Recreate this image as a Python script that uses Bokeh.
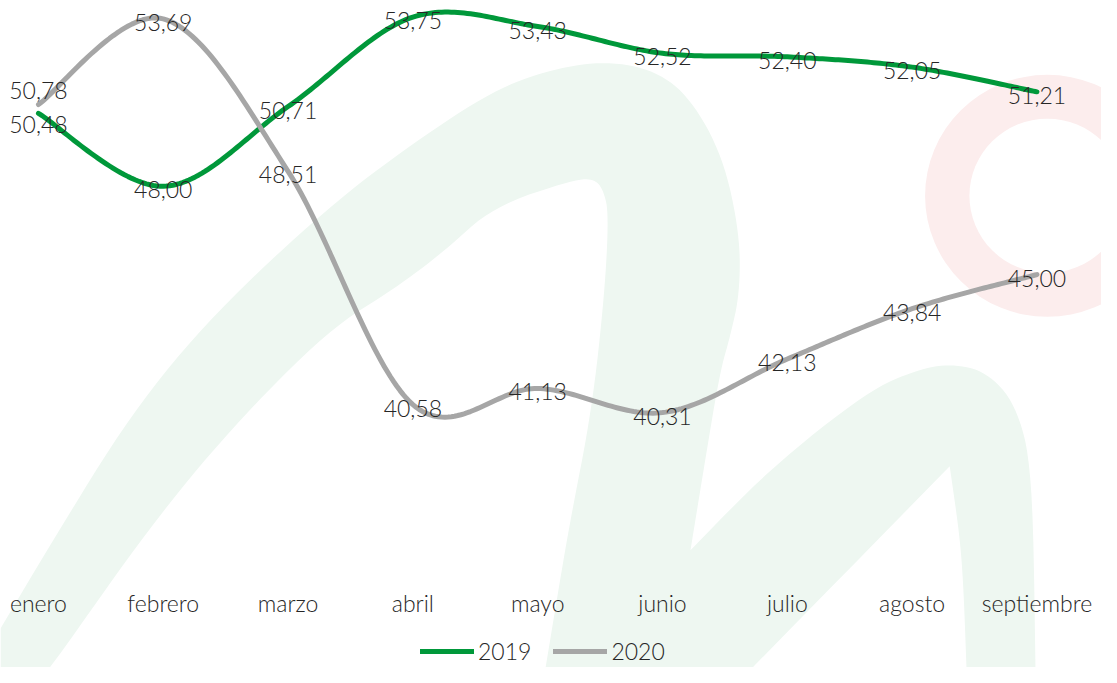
import numpy as np
from bokeh.plotting import figure
from bokeh.models import ColumnDataSource, Range1d, Legend, LegendItem
from bokeh.core.properties import value
from bokeh.embed import file_html
from bokeh.resources import INLINE

# ---------------- data ----------------
months = ["enero", "febrero", "marzo", "abril", "mayo", "junio", "julio", "agosto", "septiembre"]
series_names = ["2019", "2020"]
values_2019 = [50.48, 48.00, 50.71, 53.75, 53.43, 52.52, 52.40, 52.05, 51.21]
values_2020 = [50.78, 53.69, 48.51, 40.58, 41.13, 40.31, 42.13, 43.84, 45.00]

# ---------------- style / layout ----------------
W, H = 1101, 667
REF_W, REF_H = 1117, 683
SX, SY = W / REF_W, H / REF_H
FONT = "Lato Light"
FS = "23px"
TXT = "#262626"
GREEN = "#00983A"
GREY = "#A6A6A6"
X0_PX, STEP_PX = 38.5 * SX, 126.625 * SX        # screen position of first category, spacing
REF_VAL, REF_PX, PX_PER_UNIT = 53.75, 17.0 * SY, 30.13 * SY
x_start = -X0_PX / STEP_PX
x_end = x_start + W / STEP_PX
y_top = REF_VAL + REF_PX / PX_PER_UNIT
y_bot = y_top - H / PX_PER_UNIT
MONTH_LABEL_PX = 617 * SY
# per-point label offsets (screen px, positive = down)
off_2019 = [11, 3, 3.5, 3.5, 3.5, 3.5, 3.5, 3.5, 3.5]
off_2020 = [-14, 3.5, 3, 3.5, 3.5, 3.5, 3.5, 3.5, 3.5]

# watermark (decorative, reference-pixel coordinates; 1 = sharp corner)
wm_pts = [(0, 683, 1), (0, 643, 1), (50, 558, 0), (133, 422, 0), (217, 320, 0), (333, 211, 0),
          (420, 145, 0), (500, 92, 0), (560, 70, 0), (615, 62, 0), (665, 72, 0), (700, 100, 0),
          (733, 160, 0), (750, 239, 0), (750, 300, 0), (740, 345, 0), (730, 380, 0), (715, 470, 0),
          (700, 563, 1), (780, 480, 0), (880, 400, 0), (930, 378, 0), (965, 372, 0), (1000, 380, 0),
          (1030, 413, 0), (1047, 480, 0), (1050, 683, 1), (980, 683, 1), (977, 600, 0), (973, 547, 0),
          (963, 477, 1), (863, 580, 0), (763, 683, 1), (553, 683, 1), (565, 610, 0), (577, 538, 0),
          (600, 419, 0), (613, 299, 0), (617, 219, 0), (612, 195, 0), (603, 183, 0), (583, 183, 0),
          (500, 211, 0), (450, 257, 0), (400, 295, 0), (333, 337, 0), (233, 439, 0), (150, 541, 0),
          (67, 660, 0), (50, 683, 1)]
ring_x, ring_y, ring_r_in, ring_r_out = 1062, 200, 79, 124


def smooth(xs, ys, n=40):
    pts = np.column_stack([xs, ys]).astype(float)
    P = np.vstack([pts[0], pts, pts[-1]])
    out = [pts[0:1]]
    t = np.linspace(0, 1, n)[1:, None]
    for i in range(len(pts) - 1):
        p0, p1, p2, p3 = P[i], P[i + 1], P[i + 2], P[i + 3]
        c1 = p1 + (p2 - p0) / 6.0
        c2 = p2 - (p3 - p1) / 6.0
        b = (1 - t) ** 3 * p1 + 3 * (1 - t) ** 2 * t * c1 + 3 * (1 - t) * t ** 2 * c2 + t ** 3 * p2
        out.append(b)
    a = np.vstack(out)
    return a[:, 0], a[:, 1]


def chaikin(pts, iters=3):
    for _ in range(iters):
        new = []
        n = len(pts)
        for i in range(n):
            x, y, f = pts[i]
            if f:
                new.append((x, y, 1))
            else:
                px, py, _ = pts[i - 1]
                nx, ny, _ = pts[(i + 1) % n]
                new.append((0.75 * x + 0.25 * px, 0.75 * y + 0.25 * py, 0))
                new.append((0.75 * x + 0.25 * nx, 0.75 * y + 0.25 * ny, 0))
        pts = new
    return [q[0] for q in pts], [q[1] for q in pts]


p = figure(width=W, height=H, output_backend="svg", toolbar_location=None,
           x_range=Range1d(x_start, x_end), y_range=Range1d(y_bot, y_top),
           x_axis_location=None, y_axis_location=None, min_border=0)
p.outline_line_color = None
p.grid.visible = False
p.background_fill_color = "white"

# watermark in reference pixels
p.extra_x_ranges = {"px": Range1d(0, REF_W)}
p.extra_y_ranges = {"px": Range1d(REF_H, 0)}
wx, wy = chaikin(wm_pts)
p.patch(wx, wy, x_range_name="px", y_range_name="px", fill_color="#EEF7F1", line_color=None)
p.ellipse(x=[ring_x], y=[ring_y], width=2 * ring_r_out, height=2 * ring_r_out,
          x_range_name="px", y_range_name="px", fill_color="#FCEDED", line_color=None)
p.ellipse(x=[ring_x], y=[ring_y], width=2 * ring_r_in, height=2 * ring_r_in,
          x_range_name="px", y_range_name="px", fill_color="white", line_color=None)

xs = list(range(len(months)))
renderers = []
for vals, col in [(values_2019, GREEN), (values_2020, GREY)]:
    sx, sy = smooth(xs, vals)
    r = p.line(sx, sy, line_color=col, line_width=5, line_cap="round", line_join="round")
    renderers.append(r)

for vals, offs in [(values_2019, off_2019), (values_2020, off_2020)]:
    src = ColumnDataSource(dict(x=xs, y=vals, t=[f"{v:.2f}".replace(".", ",") for v in vals], o=offs))
    p.text(x="x", y="y", text="t", y_offset="o", source=src, text_align="center",
           text_baseline="middle", text_font=value(FONT), text_font_size=FS, text_color=TXT)

msrc = ColumnDataSource(dict(x=xs, y=[y_top - MONTH_LABEL_PX / PX_PER_UNIT] * len(months), t=months))
p.text(x="x", y="y", text="t", source=msrc, text_align="center", text_baseline="middle",
       text_font=value(FONT), text_font_size=FS, text_color=TXT)

legend = Legend(items=[LegendItem(label=series_names[0], renderers=[renderers[0]]),
                       LegendItem(label=series_names[1], renderers=[renderers[1]])],
                orientation="horizontal", location=(int(427 * SX), 2))
legend.glyph_width = 54
legend.glyph_height = 20
legend.label_height = 20
legend.label_standoff = 4
legend.spacing = 22
legend.padding = 0
legend.margin = 0
legend.border_line_alpha = 0
legend.background_fill_alpha = 0
legend.label_text_font = FONT
legend.label_text_font_size = FS
legend.label_text_color = TXT
p.add_layout(legend)

open("out.html", "w").write(file_html(p, INLINE))
